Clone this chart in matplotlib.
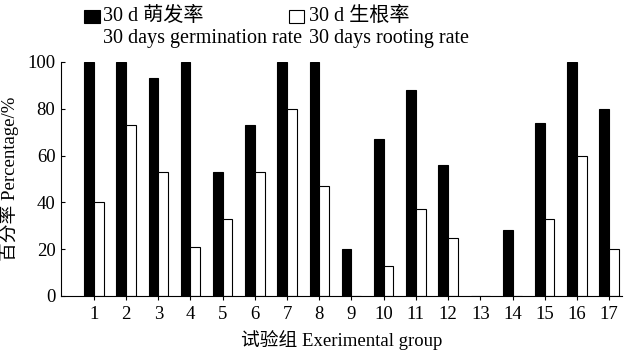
import numpy as np
import matplotlib.pyplot as plt
from matplotlib.patches import Rectangle

plt.rcParams['font.family'] = ['Liberation Serif', 'Noto Sans CJK SC']
plt.rcParams['font.size'] = 13.5

# 试验组 1-17
groups = np.arange(1, 18)
germination = [100, 100, 93, 100, 53, 73, 100, 100, 20, 67, 88, 56, 0, 28, 74, 100, 80]
rooting = [40, 73, 53, 21, 33, 53, 80, 47, 0, 13, 37, 25, 0, 0, 33, 60, 20]

fig = plt.figure(figsize=(6.24, 3.52), dpi=100)
ax = fig.add_axes([61 / 624, 56 / 352, 561 / 624, 234 / 352])

w = 0.3
ax.bar(groups - w / 2, germination, w, color='black', edgecolor='black', linewidth=0.8)
ax.bar(groups + w / 2, rooting, w, color='white', edgecolor='black', linewidth=0.8)

ax.set_xlim(-0.02, 17.4)
ax.set_ylim(0, 100)
ax.set_xticks(groups)
ax.set_yticks(range(0, 101, 20))
ax.tick_params(axis='x', direction='out', length=3, width=0.8, pad=4)
ax.tick_params(axis='y', direction='in', length=3, width=0.8, pad=4)
ax.spines['top'].set_visible(False)
ax.spines['right'].set_visible(False)
for s in ('left', 'bottom'):
    ax.spines[s].set_linewidth(0.8)

ax.set_xlabel('试验组 Exerimental group', labelpad=5)
ax.set_ylabel('百分率 Percentage/%', labelpad=6)

# 图例
lfs = 14.5
fig.patches.append(Rectangle((84 / 624, 1 - 23 / 352), 16 / 624, 13 / 352,
                             transform=fig.transFigure, facecolor='black',
                             edgecolor='black', linewidth=0.8))
fig.text(103 / 624, 1 - 16 / 352, '30 d 萌发率', va='center', ha='left', fontsize=lfs)
fig.text(103 / 624, 1 - 39 / 352, '30 days germination rate', va='center', ha='left', fontsize=lfs)
fig.patches.append(Rectangle((289 / 624, 1 - 23 / 352), 15 / 624, 13 / 352,
                             transform=fig.transFigure, facecolor='white',
                             edgecolor='black', linewidth=0.8))
fig.text(309 / 624, 1 - 16 / 352, '30 d 生根率', va='center', ha='left', fontsize=lfs)
fig.text(309 / 624, 1 - 39 / 352, '30 days rooting rate', va='center', ha='left', fontsize=lfs)

fig.savefig('out.png', dpi=100)
